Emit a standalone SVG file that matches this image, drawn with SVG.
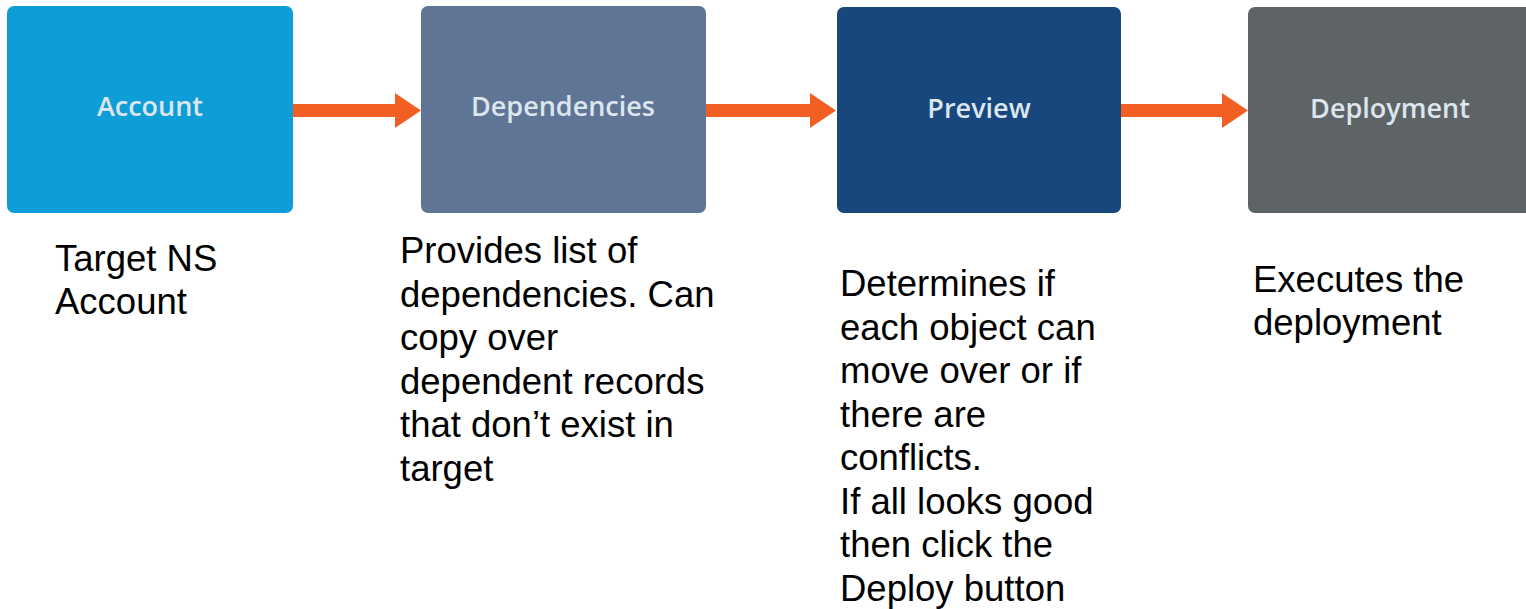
<svg xmlns="http://www.w3.org/2000/svg" width="1526" height="609" viewBox="0 0 1526 609">
<style>
.box{stroke:none}
.lbl{font-family:"Open Sans","Liberation Sans",sans-serif;font-weight:600;font-size:27px;fill:#dbe6ee;text-anchor:middle}
.desc{font-family:"Liberation Sans",Arial,sans-serif;font-size:36.5px;fill:#000}
.arr{fill:#f15f22}
</style>
<rect width="1526" height="609" fill="#ffffff"/>
<g id="connectors">
<path class="arr" d="M293,104 H395 V93 L421,110.5 L395,128 V117 H293 Z"/>
<path class="arr" d="M706,104 H810 V93 L836,110.5 L810,128 V117 H706 Z"/>
<path class="arr" d="M1121,104 H1222 V93 L1248,110.5 L1222,128 V117 H1121 Z"/>
</g>
<g id="node-account">
<rect class="box" x="7" y="6" width="286" height="207" rx="7" fill="#0f9dd8"/>
<text class="lbl" x="150" y="116">Account</text>
</g>
<g id="node-dependencies">
<rect class="box" x="421" y="6" width="285" height="207" rx="7" fill="#607595"/>
<text class="lbl" x="563" y="116">Dependencies</text>
</g>
<g id="node-preview">
<rect class="box" x="837" y="7" width="284" height="206" rx="7" fill="#17477c"/>
<text class="lbl" x="979" y="118">Preview</text>
</g>
<g id="node-deployment">
<rect class="box" x="1248" y="7" width="290" height="206" rx="7" fill="#5e6466"/>
<text class="lbl" x="1390" y="118">Deployment</text>
</g>
<g id="desc-account">
<text class="desc" x="55" y="271">Target NS</text>
<text class="desc" x="55" y="314">Account</text>
</g>
<g id="desc-dependencies">
<text class="desc" x="400" y="263">Provides list of</text>
<text class="desc" x="400" y="306.5">dependencies. Can</text>
<text class="desc" x="400" y="350">copy over</text>
<text class="desc" x="400" y="393.5">dependent records</text>
<text class="desc" x="400" y="437">that don’t exist in</text>
<text class="desc" x="400" y="480.5">target</text>
</g>
<g id="desc-preview">
<text class="desc" x="840" y="296">Determines if</text>
<text class="desc" x="840" y="339.5">each object can</text>
<text class="desc" x="840" y="383">move over or if</text>
<text class="desc" x="840" y="426.5">there are</text>
<text class="desc" x="840" y="470">conflicts.</text>
<text class="desc" x="840" y="513.5">If all looks good</text>
<text class="desc" x="840" y="557">then click the</text>
<text class="desc" x="840" y="600.5">Deploy button</text>
</g>
<g id="desc-deployment">
<text class="desc" x="1253" y="292">Executes the</text>
<text class="desc" x="1253" y="335">deployment</text>
</g>
</svg>
